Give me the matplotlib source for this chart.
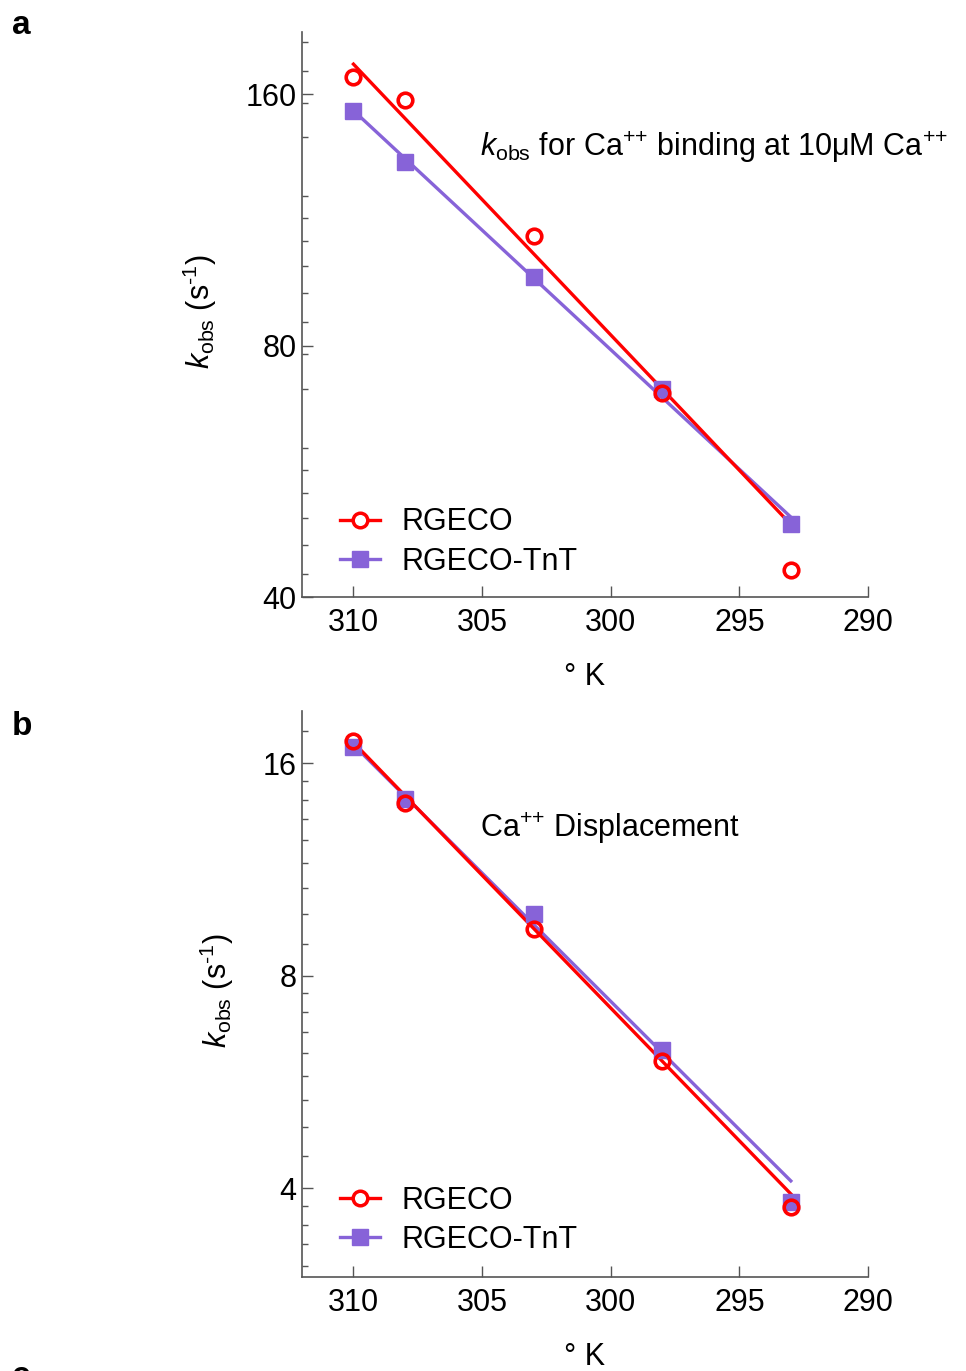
import matplotlib
matplotlib.use("Agg")
import matplotlib.pyplot as plt
import numpy as np
from matplotlib.ticker import FixedLocator, NullFormatter, FuncFormatter
from matplotlib.lines import Line2D

plt.rcParams['font.family'] = ['Liberation Sans', 'DejaVu Sans']
plt.rcParams['mathtext.fontset'] = 'custom'
plt.rcParams['mathtext.rm'] = 'Liberation Sans'
plt.rcParams['mathtext.it'] = 'Liberation Sans:italic'
plt.rcParams['mathtext.bf'] = 'Liberation Sans:bold'

# ---- data ----
temps = [310, 308, 303, 298, 293]
fit_temps = [310, 293]

# panel a: kobs for Ca++ binding at 10 uM Ca++
a_rgeco = [167.7, 157.5, 108.3, 70.2, 43.1]
a_tnt = [153.0, 132.7, 96.6, 71.0, 49.0]
a_rgeco_fit = [173.9, 48.9]
a_tnt_fit = [153.0, 49.9]

# panel b: Ca++ displacement
b_rgeco = [17.22, 14.04, 9.33, 6.06, 3.77]
b_tnt = [16.89, 14.24, 9.80, 6.29, 3.83]
b_rgeco_fit = [17.13, 3.93]
b_tnt_fit = [17.0, 4.10]

x_ticks = [310, 305, 300, 295, 290]
a_yticks = [40, 80, 160]
b_yticks = [4, 8, 16]

RED = '#FF0000'
PURPLE = '#8763D8'
AXCOL = '#555555'
FS = 22

W, H = 966, 1371
fig = plt.figure(figsize=(W / 100, H / 100), dpi=100)


def px_axes(left, top, right, bottom):
    return fig.add_axes([left / W, 1 - bottom / H, (right - left) / W, (bottom - top) / H])


def octave_minors(lo, hi):
    vals = []
    base = 2.0 ** np.floor(np.log2(lo)) / 2
    while base < hi:
        for k in range(1, 9):
            v = base + base * k / 9
            if lo < v < hi:
                vals.append(v)
        base *= 2
    return vals


def setup(ax, ylim, yticks, ann, ylab_x, leg_anchor):
    ax.set_yscale('log')
    ax.set_xlim(312, 290)
    ax.set_ylim(*ylim)
    ax.yaxis.set_major_locator(FixedLocator(yticks))
    ax.yaxis.set_major_formatter(FuncFormatter(lambda v, p: f"{v:g}"))
    ax.yaxis.set_minor_locator(FixedLocator(octave_minors(*ylim)))
    ax.yaxis.set_minor_formatter(NullFormatter())
    ax.xaxis.set_major_locator(FixedLocator(x_ticks))
    for s in ['top', 'right']:
        ax.spines[s].set_visible(False)
    for s in ['left', 'bottom']:
        ax.spines[s].set_color(AXCOL)
        ax.spines[s].set_linewidth(1.2)
    ax.tick_params(axis='both', which='major', direction='in', length=8, width=1.0,
                   color=AXCOL, labelsize=FS)
    ax.tick_params(axis='y', which='minor', direction='in', length=4.5, width=1.0, color=AXCOL)
    ax.tick_params(axis='y', which='major', pad=4)
    ax.tick_params(axis='x', which='major', pad=8)
    ax.text(0.5, -0.141, '° K', transform=ax.transAxes, ha='center', va='center', fontsize=FS)
    ax.text(ylab_x, 0.505, r'$k_{\mathrm{obs}}$ (s$^{\text{-1}}$)', transform=ax.transAxes,
            rotation=90, ha='center', va='center', fontsize=FS)
    ax.text(0.3145, ann[1], ann[0], transform=ax.transAxes, ha='left', va='center',
            fontsize=FS, clip_on=False)
    handles = [
        Line2D([], [], color=RED, lw=2.4, marker='o', ms=10.5, mfc='white', mec=RED, mew=2.5),
        Line2D([], [], color=PURPLE, lw=2.4, marker='s', ms=11.5, mfc=PURPLE, mec=PURPLE),
    ]
    ax.legend(handles, ['RGECO', 'RGECO-TnT'], loc='upper left', bbox_to_anchor=leg_anchor,
              frameon=False, fontsize=FS, handlelength=1.3, handletextpad=0.7,
              labelspacing=0.3, borderpad=0, borderaxespad=0)


def draw(ax, rg, tn, rgfit, tnfit):
    ax.plot(fit_temps, tnfit, color=PURPLE, lw=2.4, zorder=2)
    ax.plot(fit_temps, rgfit, color=RED, lw=2.4, zorder=3)
    ax.plot(temps, tn, ls='none', marker='s', ms=12, color=PURPLE, zorder=4)
    ax.plot(temps, rg, ls='none', marker='o', ms=10.5, mfc='none', mec=RED, mew=2.6, zorder=5)


ax_a = px_axes(302, 32, 868, 597.3)
draw(ax_a, a_rgeco, a_tnt, a_rgeco_fit, a_tnt_fit)
setup(ax_a, (40, 190), a_yticks,
      (r'$k_{\mathrm{obs}}$ for Ca$^{\text{++}}$ binding at 10μM Ca$^{\text{++}}$', 0.797),
      -0.180, (0.067, 0.159))

ax_b = px_axes(302, 710.7, 868, 1276.7)
draw(ax_b, b_rgeco, b_tnt, b_rgeco_fit, b_tnt_fit)
setup(ax_b, (3, 19), b_yticks,
      (r'Ca$^{\text{++}}$ Displacement', 0.792),
      -0.150, (0.067, 0.161))

fig.text(12 / W, 1 - 25 / H, 'a', fontsize=24, fontweight='bold', ha='left', va='center')
fig.text(12 / W, 1 - 727 / H, 'b', fontsize=24, fontweight='bold', ha='left', va='center')
fig.text(12 / W, 1 - 1361 / H, 'c', fontsize=24, fontweight='bold', ha='left', va='top')

fig.savefig('out.png', dpi=100)
